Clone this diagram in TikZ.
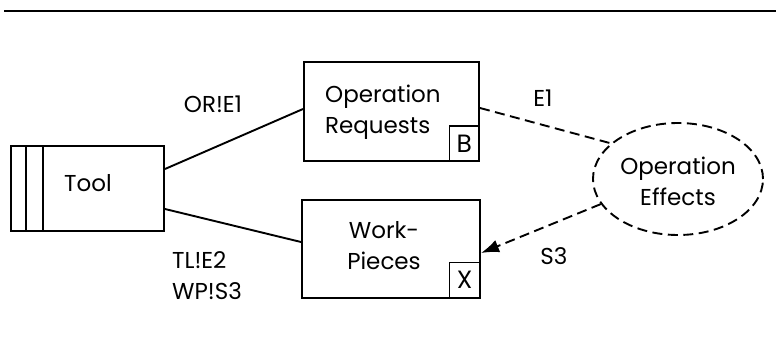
\documentclass[tikz,border=0pt]{standalone}
\usepackage{fontspec}
\setmainfont{Poppins}
\usetikzlibrary{arrows.meta,shapes.geometric}
\tikzset{
  boxline/.style={line width=2pt},
  dom/.style={draw, boxline, rectangle, inner sep=0pt},
  tag/.style={draw, line width=1.5pt, rectangle, inner sep=0pt, font=\fontsize{25}{28}\selectfont},
  txt/.style={inner sep=0pt, font=\fontsize{23}{31}\selectfont},
  conn/.style={line width=1.9pt},
  dconn/.style={line width=1.9pt, dash pattern=on 10pt off 5.5pt},
}
\begin{document}
\begin{tikzpicture}[x=1pt, y=-1pt]
\useasboundingbox (0,0) rectangle (776,342);
% rule at the top
\draw[line width=2pt] (4,11) -- (776,11);

% machine domain with double stripe
\node[dom, minimum width=153pt, minimum height=85pt] (tool) at (87.5,188.5) {};
\draw[line width=1.6pt] (26,146) -- (26,231) (43,146) -- (43,231);
\node[txt] (tooltxt) at (88,183) {Tool};

% given domains
\node[dom, minimum width=175pt, minimum height=99pt] (or) at (391.5,111.5) {};
\node[tag, minimum width=30pt, minimum height=35pt, anchor=south east] (orb) at (or.south east) {B};
\node[txt, align=left, anchor=west] (ortxt) at (325,112) {Operation\\Requests};

\node[dom, minimum width=178pt, minimum height=98pt] (wp) at (391,249) {};
\node[tag, minimum width=31pt, minimum height=36pt, anchor=south east] (wpx) at (wp.south east) {X};
\node[txt, align=center] (wptxt) at (384,246) {Work-\\Pieces};

% requirement
\node[draw, dconn, ellipse, minimum width=170pt, minimum height=112pt, inner sep=0pt] (eff) at (678,179) {};
\node[txt, align=center] (efftxt) at (678,181) {Operation\\Effects};

% interfaces
\draw[conn] ([yshift=19.5pt]tool.east) -- ([yshift=2.5pt]or.west);
\draw[conn] ([yshift=-20.5pt]tool.east) -- ([yshift=7pt]wp.west);
\draw[dconn] ([yshift=3.5pt]or.east) -- (eff.152);
\draw[dconn, -{Latex[length=18pt,width=13pt]}] (eff.198) -- ([yshift=-4pt]wp.east);

% phenomena labels
\node[txt] (l1) at (213,104) {OR!E1};
\node[txt, align=left, anchor=west] (l2) at (172,276) {TL!E2\\WP!S3};
\node[txt] (l3) at (543,98) {E1};
\node[txt] (l4) at (554,256) {S3};
\end{tikzpicture}
\end{document}
